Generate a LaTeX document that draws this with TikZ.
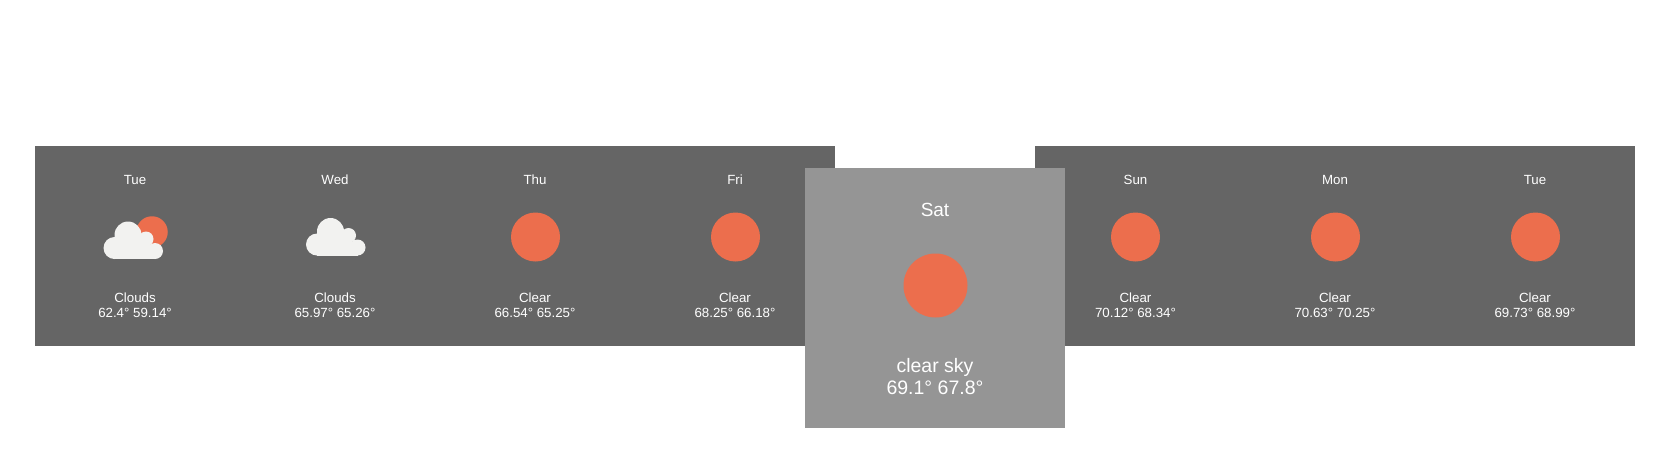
\documentclass[tikz,border=0pt]{standalone}
\usepackage{fontspec}
\setmainfont{Liberation Sans}
\definecolor{barcol}{HTML}{656565}
\definecolor{boxcol}{HTML}{959595}
\definecolor{suncol}{HTML}{EC6E4D}
\definecolor{cloudcol}{HTML}{F2F2F0}
\tikzset{
  panel/.style={fill=#1,draw=none,inner sep=0pt,outer sep=0pt,anchor=north west},
  sundisc/.style={circle,fill=suncol,draw=none,inner sep=0pt,outer sep=0pt,minimum size=#1},
  smalltxt/.style={text=white,font=\fontsize{13.3}{15}\selectfont,anchor=base,inner sep=0pt},
  bigtxt/.style={text=white,font=\fontsize{19.5}{21}\selectfont,anchor=base,inner sep=0pt},
  pics/cloudshape/.style={code={
    \fill[cloudcol] (-20.5,11) circle (11);
    \fill[cloudcol] (-7,-2) circle (13.5);
    \fill[cloudcol] (11,2) circle (7.5);
    \fill[cloudcol] (20,14) circle (8);
    \fill[cloudcol] (-20.5,8) rectangle (20,22);
    \fill[cloudcol] (-12,0) rectangle (12,22);
  }}
}
\begin{document}
\begin{tikzpicture}[x=1pt,y=-1pt]
\useasboundingbox (0,0) rectangle (1673,475);
\node[panel=barcol,minimum width=800pt,minimum height=200pt] (leftbar) at (35,146) {};
\node[panel=barcol,minimum width=600pt,minimum height=200pt] (rightbar) at (1035,146) {};
\node[panel=boxcol,minimum width=260pt,minimum height=260pt] (today) at (805,168) {};
% cell texts
\foreach \nm/\cx/\dy/\wx/\tp in {a/135/Tue/Clouds/62.4° 59.14°,b/335/Wed/Clouds/65.97° 65.26°,c/535/Thu/Clear/66.54° 65.25°,d/735/Fri/Clear/68.25° 66.18°,e/1135.5/Sun/Clear/70.12° 68.34°,f/1335/Mon/Clear/70.63° 70.25°,g/1535/Tue/Clear/69.73° 68.99°}{
  \node[smalltxt] (day\nm) at (\cx,184) {\dy};
  \node[smalltxt] (wx\nm) at (\cx,302) {\wx};
  \node[smalltxt] (tp\nm) at (\cx,317) {\tp};
}
% icons
\node[sundisc=31.5pt] (suna) at (152,232) {};
\pic at (135,237) {cloudshape};
\pic at (337.5,233.5) {cloudshape};
\foreach \nm/\cx in {c/535.5,d/735.5,e/1135.5,f/1335.5,g/1535.5}{
  \node[sundisc=49pt] (sun\nm) at (\cx,237) {};
}
% featured day
\node[bigtxt,font=\fontsize{19}{21}\selectfont] (daytoday) at (935,216) {Sat};
\node[sundisc=64pt] (suntoday) at (935.5,285.5) {};
\node[bigtxt] (wxtoday) at (935,372) {clear sky};
\node[bigtxt] (tptoday) at (935,394) {69.1° 67.8°};
\end{tikzpicture}
\end{document}
